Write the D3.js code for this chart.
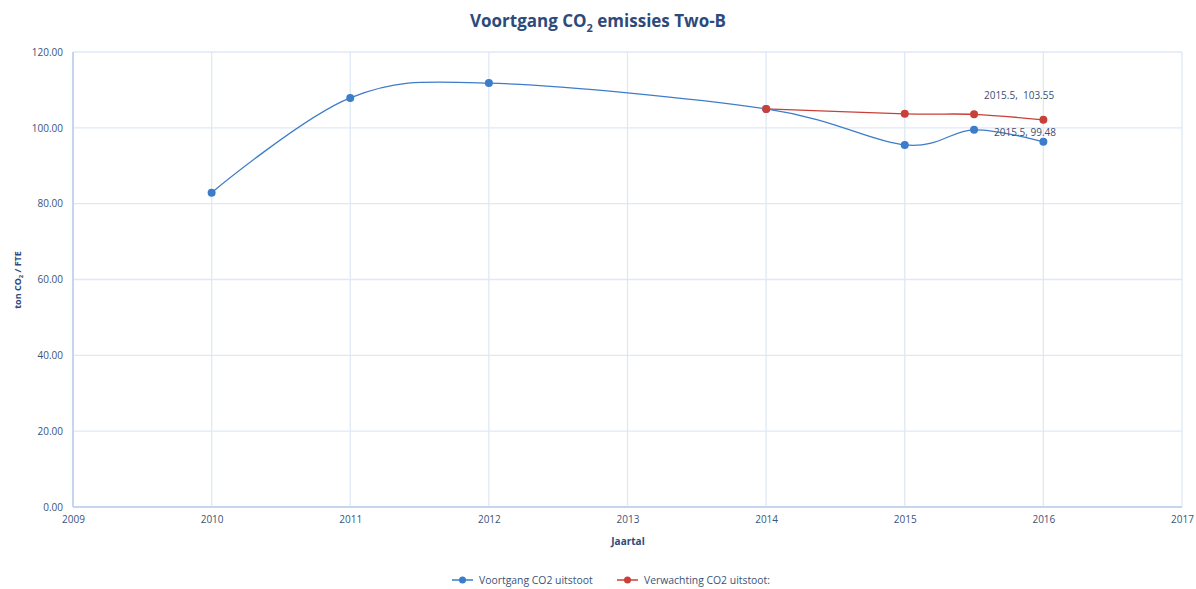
<!DOCTYPE html>
<html><head><meta charset="utf-8">
<script src="https://cdn.jsdelivr.net/npm/d3@7"></script>
<style>body{margin:0;background:#fff}svg{display:block}text{white-space:pre}</style>
</head><body>
<svg id="c" width="1196" height="589"></svg>
<script>
const xTicks = [2009,2010,2011,2012,2013,2014,2015,2016,2017];
const yTicks = [0,20,40,60,80,100,120];
const blueX = [2010,2011,2012,2014,2015,2015.5,2016];
const blueY = [82.9,107.9,111.8,105.0,95.5,99.48,96.3];
const redX = [2014,2015,2015.5,2016];
const redY = [105.0,103.7,103.55,102.1];
const seriesNames = ["Voortgang CO2 uitstoot","Verwachting CO2 uitstoot:"];
const colors = ["#3d7cc9","#c9403a"];

const svg = d3.select("#c");
const font = "'Open Sans', 'Liberation Sans', sans-serif";
const textCol = "#3b5379";
const m = {l:73, r:1182, t:52, b:507};
const x = d3.scaleLinear().domain([2009,2017]).range([m.l,m.r]);
const y = d3.scaleLinear().domain([0,120]).range([m.b,m.t]);

// grid
svg.append("g").selectAll("line").data(yTicks.slice(1)).join("line")
  .attr("x1",m.l).attr("x2",m.r).attr("y1",d=>y(d)).attr("y2",d=>y(d))
  .attr("stroke","#dfe8f5").attr("stroke-width",1.3);
svg.append("g").selectAll("line").data(xTicks.slice(1)).join("line")
  .attr("x1",d=>x(d)).attr("x2",d=>x(d)).attr("y1",m.t).attr("y2",m.b)
  .attr("stroke","#dfe8f5").attr("stroke-width",1.3);
// axes lines
svg.append("line").attr("x1",m.l).attr("x2",m.l).attr("y1",m.t).attr("y2",m.b).attr("stroke","#c6d6ef").attr("stroke-width",2);
svg.append("line").attr("x1",m.l).attr("x2",m.r).attr("y1",m.b).attr("y2",m.b).attr("stroke","#c6d6ef").attr("stroke-width",2);

// tick labels
const yAxis = d3.axisLeft(y).tickValues(yTicks).tickFormat(d3.format(".2f")).tickSize(0).tickPadding(10);
const gy = svg.append("g").attr("transform",`translate(${m.l},0)`).call(yAxis);
gy.select(".domain").remove();
gy.selectAll("text").attr("fill",textCol).attr("font-family",font).attr("font-size",10);
const xAxis = d3.axisBottom(x).tickValues(xTicks).tickFormat(d3.format("d")).tickSize(0).tickPadding(9);
const gx = svg.append("g").attr("transform",`translate(0,${m.b})`).call(xAxis);
gx.select(".domain").remove();
gx.selectAll("text").attr("fill",textCol).attr("font-family",font).attr("font-size",10);

// title
const t = svg.append("text").attr("x",598).attr("y",27).attr("text-anchor","middle")
  .attr("font-family",font).attr("font-weight","bold").attr("font-size",17).attr("fill","#2c4a7c");
t.append("tspan").text("Voortgang CO");
t.append("tspan").text("2").attr("font-size",11).attr("dy",5);
t.append("tspan").text(" emissies Two-B").attr("dy",-5);

// axis titles
svg.append("text").attr("x",628).attr("y",545).attr("text-anchor","middle")
  .attr("font-family",font).attr("font-weight","bold").attr("font-size",10).attr("fill","#2c4a7c").text("Jaartal");
const yt = svg.append("text").attr("transform","translate(21,280) rotate(-90)").attr("text-anchor","middle")
  .attr("font-family",font).attr("font-weight","bold").attr("font-size",9).attr("fill","#2c4a7c");
yt.append("tspan").text("ton CO");
yt.append("tspan").text("2").attr("font-size",6).attr("dy",2);
yt.append("tspan").text(" / FTE").attr("dy",-2);

// series
const line = d3.line().x(d=>x(d[0])).y(d=>y(d[1])).curve(d3.curveCardinal.tension(0));
const series = [d3.zip(blueX,blueY), d3.zip(redX,redY)];
series.forEach((s,i)=>{
  svg.append("path").datum(s).attr("d",line).attr("fill","none").attr("stroke",colors[i]).attr("stroke-width",1.3);
  svg.append("g").selectAll("circle").data(s).join("circle")
    .attr("cx",d=>x(d[0])).attr("cy",d=>y(d[1])).attr("r",4).attr("fill",colors[i]);
});

// data labels
const lbl = [[2015.5,103.55,"2015.5,  103.55",45,-15],[2015.5,99.48,"2015.5, 99.48",20,6]];
lbl.forEach((l,i)=>{
  svg.append("text").attr("x",x(l[0])+l[3]).attr("y",y(l[1])+l[4])
    .attr("text-anchor",i===0?"middle":"start")
    .attr("font-family",font).attr("font-size",10).attr("fill","#3b4f70").text(l[2]);
});

// legend
const legX = [452,617];
seriesNames.forEach((n,i)=>{
  const g = svg.append("g").attr("transform",`translate(${legX[i]},580)`);
  g.append("line").attr("x1",0).attr("x2",21).attr("stroke",colors[i]).attr("stroke-width",1.5);
  g.append("circle").attr("cx",10.5).attr("r",3.5).attr("fill",colors[i]);
  g.append("text").attr("x",27).attr("y",4).attr("font-family",font).attr("font-size",10.4).attr("fill",textCol).text(n);
});
</script>
</body></html>
